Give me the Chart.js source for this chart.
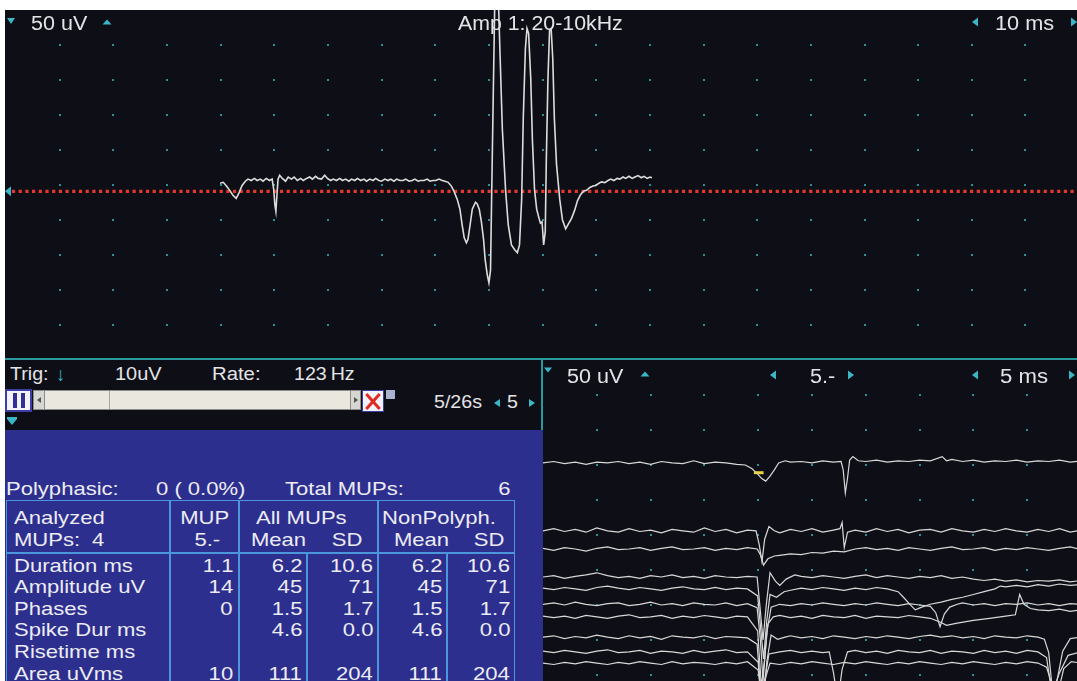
<!DOCTYPE html>
<html>
<head>
<meta charset="utf-8">
<title>EMG MUP analysis</title>
<script src="https://cdn.jsdelivr.net/npm/chart.js@4.4.1/dist/chart.umd.min.js"></script>
<style>
  html, body { margin: 0; padding: 0; background: #fff; }
  #screen { position: relative; width: 1077px; height: 681px; overflow: hidden;
            font-family: "Liberation Sans", Arial, sans-serif; }
  .abs { position: absolute; }
  .txt { position: absolute; white-space: nowrap; line-height: 1; }
</style>
</head>
<body>
<div id="screen">
  <div class="abs" style="left:5px;top:10px;width:1072px;height:671px;background:#0e0f16"></div>
  <canvas id="mainTrace" class="abs" style="left:5px;top:10px" width="1072" height="348"></canvas>
  <div class="abs" style="left:5px;top:358px;width:1072px;height:2px;background:#2a9a9c"></div>
  <div class="abs" style="left:541px;top:358px;width:2px;height:72px;background:#2a9a9c"></div>
  <div class="abs" style="left:5px;top:430px;width:538px;height:251px;background:#2d2f8f"></div>
  <canvas id="raster" class="abs" style="left:543px;top:360px" width="534" height="321"></canvas>
</div>
<script>
const SCREEN_W = 1077;

// ---- top sweep (10 ms/div, 50 uV/div) ----
const mainTimeRange = [0, 199.6];
const mainAmpRange = [-249.6, 247.6];
const triggerLevelUv = -11.4;
const mainHeader = ['50 uV', 'Amp 1: 20-10kHz', '10 ms'];
// [ms, uV]
const mainTrace = [
  [39.9,0],[40.5,1.4],[41.0,-3],[41.6,-9],[42.3,-17],[42.9,-21.5],[43.4,-14],[44.0,-3],[44.6,3],
  [45.1,6],[45.7,4],[46.3,7],[46.8,4],[47.4,6],[47.9,3],[48.5,7],[49.1,4],[49.6,6],
  [49.9,-9],[50.1,-30],[50.3,-40],[50.5,-16],[50.7,6],[51.0,11.5],[51.5,7],[52.1,3],[52.6,9],
  [53.2,6],[53.7,9],[54.3,4],[54.9,7],[55.4,4],[56.0,7],[56.6,9],[57.1,6],[57.7,10],[58.2,7],
  [58.8,6],[59.4,11.5],[59.9,7],[60.5,4],[61.0,6],[61.6,4],[62.2,7],[62.7,4],[63.3,6],[63.9,3],
  [64.4,6],[65.0,4],[65.5,7],[66.1,4],[66.7,6],[67.2,3],[67.8,6],[68.4,4],[68.9,7],[69.5,4],
  [70.0,3],[70.6,6],[71.2,4],[71.7,6],[72.3,3],[72.8,6],[73.4,4],[74.0,4],[74.5,6],[75.1,3],
  [75.7,4],[76.2,6],[76.8,3],[77.3,4],[77.9,4],[78.5,6],[79.0,3],[79.6,4],[80.1,4],[80.7,6],
  [81.3,4],[81.8,3],[82.4,1.4],[83.0,-4],[83.5,-11.5],[84.1,-23],[84.6,-37],[85.0,-59],
  [85.4,-78],[85.8,-85],[86.1,-80],[86.5,-59],[86.9,-37],[87.5,-27],[87.8,-29],[88.2,-37],
  [88.6,-55],[89.0,-80],[89.3,-109],[89.7,-131],[90.0,-142],[90.3,-124],[90.5,-23],[90.8,121],
  [91.1,264],[91.4,293],[91.7,279],[92.1,178],[92.5,78],[93.1,-9],[93.6,-59],[94.2,-88],
  [94.8,-95],[95.3,-99],[95.7,-88],[96.1,-23],[96.4,92],[96.8,193],[97.1,221],[97.4,214],
  [97.8,149],[98.1,63],[98.5,-9],[98.9,-37],[99.3,-49],[99.6,-57],[99.9,-55],[100.2,-88],
  [100.5,-69],[100.7,34],[101.0,149],[101.3,218],[101.6,221],[101.9,178],[102.2,92],[102.6,27],
  [103.2,-23],[103.7,-52],[104.3,-65],[104.9,-57],[105.4,-50],[106.0,-38],[106.5,-25],[107.1,-16],
  [107.7,-11],[108.2,-10],[108.8,-6],[109.4,-4],[109.9,-3],[110.5,0],[111.0,2],[111.6,1],
  [112.2,4],[112.7,6],[113.3,4],[113.9,7],[114.4,6],[115.0,9],[115.5,7],[116.1,10],[116.7,7],
  [117.2,9],[117.8,11],[118.4,8],[118.9,10],[119.5,7],[120.0,9],[120.4,8]
];

// ---- raster of consecutive sweeps (5 ms/div, 50 uV/div) ----
const rasterTimeRange = [0, 49.63];
const rasterAmpRange = [-458.6, 0];
const rasterHeader = ['50 uV', '5.-', '5 ms'];
const sweepBaseUv = [-147, -244, -270, -310, -327, -349, -367, -396, -417, -433];
// each sweep: [ms, uV relative to its own baseline]
const sweep1 = [[0,0],[1,2],[2,-1],[3,1],[4,-2],[5,1],[6,0],[7,2],[8,-1],[9,1],[10,-2],[11,2],[12,0],[13,-1],[14,3],[15,-1],[16,1],[17,0],[18,-2],[18.8,-3],[19.4,-8],[19.9,-15],[20.3,-22],[20.7,-26],[21.1,-19],[21.5,-10],[21.9,0],[22.5,3],[23,1],[24,2],[25,0],[26,3],[27,1],[27.7,2],[27.9,-10],[28.1,-43],[28.3,-22],[28.5,4],[28.8,9],[29.3,3],[30,2],[31,4],[32,1],[33,3],[34,2],[35,4],[36,3],[37.1,9],[37.5,3],[38,5],[39,2],[40,4],[41,1],[42,3],[43,2],[44,4],[45,1],[46,3],[47,2],[48,4],[49,1],[50,3]];
const sweep2 = [[0,0],[1,3],[2,-1],[3,2],[4,-2],[5,4],[6,0],[7,-2],[8,3],[9,-1],[10,1],[11,-3],[12,2],[13,0],[14,-2],[15,4],[16,-1],[17,2],[18,-3],[19,1],[19.8,0],[20.1,-20],[20.35,-44],[20.6,-12],[21.0,6],[21.5,0],[22,-3],[23,2],[24,-1],[25,3],[26,-2],[27,1],[27.6,3],[27.8,12],[28.0,-24],[28.3,-2],[29,1],[30,-2],[31,3],[32,-1],[33,2],[34,-3],[35,1],[36,2],[37,-2],[38,3],[39,0],[40,-2],[41,2],[42,-1],[43,3],[44,0],[45,-2],[46,2],[47,-1],[48,3],[49,-2],[50,1]];
const sweep3 = [[0,1],[1,-2],[2,2],[3,0],[4,-3],[5,1],[6,3],[7,-1],[8,0],[9,2],[10,-2],[11,1],[12,3],[13,-1],[14,0],[15,2],[16,-2],[17,1],[18,-1],[19,2],[19.9,0],[20.2,-8],[20.5,-23],[20.9,-14],[21.5,-10],[22,-9],[23,-7],[24,-8],[25,-5],[26,-6],[27,-3],[28,-4],[29,0],[30,2],[31,-1],[32,1],[33,-2],[34,2],[35,0],[36,-2],[37,1],[38,3],[39,-1],[40,0],[41,2],[42,-2],[43,1],[44,-1],[45,2],[46,0],[47,-2],[48,1],[49,3],[50,-1]];
const sweep4 = [[0,0],[1,2],[2,-2],[3,1],[4,3],[5,6],[6,2],[7,-1],[8,1],[9,-2],[10,2],[11,0],[12,3],[13,-1],[14,1],[15,-2],[16,2],[17,0],[18,-1],[19,1],[19.9,0],[20.15,-40],[20.45,-90],[20.75,-40],[21.1,6],[21.6,-6],[22.0,-12],[22.6,-3],[23.4,3],[24,1],[25,-1],[26,2],[27,0],[28,-2],[29,1],[30,3],[31,-1],[32,2],[33,0],[34,-2],[35,1],[36,-1],[37,2],[38,-2],[39,0],[40,-3],[41,-5],[42,-3],[43,-6],[44,-4],[45,-7],[46,-5],[47,-6],[48,-4],[49,-7],[50,-5]];
const sweep5 = [[0,1],[1,-1],[2,2],[3,0],[4,-2],[5,2],[6,4],[7,1],[8,-1],[9,2],[10,0],[11,-2],[12,1],[13,3],[14,0],[15,-1],[16,2],[17,-1],[18,1],[19,0],[19.95,-10],[20.25,-60],[20.5,-100],[20.8,-45],[21.1,-8],[21.7,-12],[22.4,-4],[23,-2],[24,1],[25,-1],[26,2],[27,0],[28,-2],[29,1],[30,-1],[31,2],[32,0],[33,-4],[33.5,-12],[34.1,-22],[34.6,-30],[35.2,-26],[36,-22],[37,-19],[38,-15],[39,-12],[40,-8],[41,-4],[42,0],[42.5,4],[43,3],[44,5],[45,3],[46,6],[47,4],[48,7],[49,5],[50,6]];
const sweep6 = [[0,0],[1,2],[2,-1],[3,3],[4,0],[5,-2],[6,1],[7,2],[8,-2],[9,0],[10,3],[11,-1],[12,1],[13,-2],[14,2],[15,0],[16,-1],[17,2],[18,-2],[19,1],[19.9,-5],[20.2,-50],[20.45,-110],[20.8,-40],[21.2,-4],[22,0],[23,-2],[24,1],[25,-1],[26,2],[27,0],[28,-2],[29,1],[30,-1],[31,2],[32,0],[33,-2],[34,1],[35,-1],[36,-3],[36.5,-12],[36.9,-32],[37.3,-14],[37.8,-4],[38.5,0],[39,2],[40,-1],[41,1],[42,-2],[43,1],[44,0],[45,2],[46,-1],[47,1],[48,-2],[49,1],[50,0]];
const sweep7 = [[0,1],[1,-1],[2,1],[3,-2],[4,2],[5,0],[6,-2],[7,1],[8,3],[9,-1],[10,0],[11,2],[12,-2],[13,1],[14,-1],[15,2],[16,0],[17,-2],[18,1],[19,0],[19.95,-20],[20.3,-100],[20.6,-60],[20.9,-10],[21.4,0],[22,2],[23,-1],[24,1],[25,-2],[26,2],[27,0],[28,-1],[29,2],[30,-2],[31,1],[32,0],[33,-1],[34,2],[35,0],[36,-2],[37,-8],[37.5,-12],[38.5,-9],[40,-5],[41.5,-2],[43,1],[43.9,3],[44.3,32],[44.7,18],[45.3,12],[46,10],[47,9],[48,11],[49,8],[50,10]];
const sweep8 = [[0,0],[1,2],[2,-2],[3,1],[4,-1],[5,3],[6,0],[7,-2],[8,2],[9,-1],[10,1],[11,-3],[12,2],[13,0],[14,-1],[15,2],[16,-2],[17,1],[18,0],[19,-1],[19.9,-10],[20.2,-70],[20.5,-95],[20.8,-35],[21.2,3],[21.8,-3],[22.5,0],[23,2],[24,-1],[25,1],[26,-2],[27,2],[28,0],[29,-2],[30,1],[31,-1],[32,2],[33,0],[34,-2],[35,1],[36,3],[37,0],[38,2],[39,-1],[40,1],[41,-2],[42,2],[43,0],[44,-1],[45,2],[46,0],[46.6,-3],[47.0,-22],[47.4,-85],[47.8,-60],[48.3,-20],[49.0,-2],[50,0]];
const sweep9 = [[0,1],[1,-1],[2,2],[3,0],[4,-2],[5,1],[6,3],[7,-1],[8,0],[9,2],[10,-2],[11,1],[12,0],[13,-2],[14,2],[15,-1],[16,1],[17,3],[18,-1],[19,0],[20.0,-15],[20.3,-70],[20.6,-40],[21.0,-3],[22,0],[23,2],[24,-1],[25,1],[26,-1],[26.6,0],[27.0,-30],[27.4,-70],[27.8,-25],[28.3,0],[29,2],[30,-1],[31,1],[32,-2],[33,2],[34,0],[35,-1],[36,2],[37,-2],[38,1],[39,0],[40,-2],[41,2],[42,-1],[43,1],[44,-2],[45,2],[46,0],[46.8,-8],[47.3,-60],[48.0,-30],[48.8,-5],[50,0]];
const sweep10 = [[0,0],[1,-2],[2,1],[3,-1],[4,2],[5,0],[6,-2],[7,1],[8,-1],[9,2],[10,0],[11,-2],[12,2],[13,-1],[14,1],[15,0],[16,-2],[17,1],[18,-1],[19,2],[20.0,-10],[20.3,-50],[20.7,-20],[21.1,0],[22,-2],[23,1],[24,-1],[25,2],[26,0],[27,-2],[28,1],[29,-1],[30,2],[31,0],[32,-2],[33,1],[34,-1],[35,2],[36,0],[37,-2],[38,1],[39,-1],[40,2],[41,0],[42,-2],[43,1],[44,-1],[45,2],[46,0],[46.8,-6],[47.3,-30],[47.9,-40],[48.4,-8],[49.1,2],[50,0]];
const sweeps = [sweep1, sweep2, sweep3, sweep4, sweep5, sweep6, sweep7, sweep8, sweep9, sweep10];
const mupMarker = [[19.6,-14],[20.5,-14]];   // yellow cursor on sweep 1

// ---- control strip and statistics ----
const trigLevel = '10uV';
const rateHz = '123';
const sweepCounter = '5/26s';
const sweepIndex = '5';
const polyphasicText = '0 ( 0.0%)';
const totalMups = '6';
const analyzedMups = '4';
const selectedMup = '5.-';
const tableRowLabels = ['Duration ms', 'Amplitude uV', 'Phases', 'Spike Dur ms', 'Risetime ms', 'Area uVms'];
const mupValues   = ['1.1', '14', '0', '', '', '10'];
const allMupsMean = ['6.2', '45', '1.5', '4.6', '', '111'];
const allMupsSd   = ['10.6', '71', '1.7', '0.0', '', '204'];
const nonPolyMean = ['6.2', '45', '1.5', '4.6', '', '111'];
const nonPolySd   = ['10.6', '71', '1.7', '0.0', '', '204'];

const TEXT = '#e4e4e8';
const CYAN = '#3cb6c6';
const DOT = '#2e8e96';
const FONT = '"Liberation Sans", Arial, sans-serif';

function toPoints(pairs, base) {
  return pairs.map(p => ({ x: p[0], y: p[1] + (base || 0) }));
}

function canvasTri(ctx, cx, cy, w, h, dir) {
  ctx.beginPath();
  if (dir === 'down') { ctx.moveTo(cx - w/2, cy - h/2); ctx.lineTo(cx + w/2, cy - h/2); ctx.lineTo(cx, cy + h/2); }
  if (dir === 'up')   { ctx.moveTo(cx - w/2, cy + h/2); ctx.lineTo(cx + w/2, cy + h/2); ctx.lineTo(cx, cy - h/2); }
  if (dir === 'left') { ctx.moveTo(cx + w/2, cy - h/2); ctx.lineTo(cx + w/2, cy + h/2); ctx.lineTo(cx - w/2, cy); }
  if (dir === 'right'){ ctx.moveTo(cx - w/2, cy - h/2); ctx.lineTo(cx - w/2, cy + h/2); ctx.lineTo(cx + w/2, cy); }
  ctx.closePath();
  ctx.fill();
}

function canvasText(ctx, text, x, y, size, sx) {
  ctx.save();
  ctx.translate(x, y);
  ctx.scale(sx, 1);
  ctx.font = size + 'px ' + FONT;
  ctx.fillStyle = TEXT;
  ctx.textBaseline = 'middle';
  ctx.fillText(text, 0, 0);
  ctx.restore();
}

// dots at every division crossing
function dotGrid(xStep, yStep) {
  return {
    id: 'dotGrid',
    beforeDatasetsDraw(chart) {
      const { ctx, scales: { x, y } } = chart;
      ctx.save();
      ctx.fillStyle = DOT;
      for (let xv = x.min + xStep; xv < x.max - 0.01; xv += xStep) {
        for (let yv = y.max - yStep; yv > y.min - 1; yv -= yStep) {
          ctx.fillRect(Math.round(x.getPixelForValue(xv)) - 1, Math.round(y.getPixelForValue(yv)) - 1, 2, 2);
        }
      }
      ctx.restore();
    }
  };
}

// top header (canvas origin is 5,10 on the page)
const mainHeaderPlugin = {
  id: 'mainHeader',
  beforeDatasetsDraw(chart) {
    const ctx = chart.ctx, ox = 5, oy = 10;
    ctx.save();
    ctx.fillStyle = CYAN;
    canvasTri(ctx, 11 - ox, 21 - oy, 8, 6, 'down');
    canvasTri(ctx, 107 - ox, 22 - oy, 9, 5, 'up');
    canvasTri(ctx, 975 - ox, 22 - oy, 6, 9, 'left');
    canvasTri(ctx, 1074 - ox, 22 - oy, 6, 9, 'right');
    const yTrig = chart.scales.y.getPixelForValue(triggerLevelUv);
    canvasTri(ctx, 3, yTrig, 6, 10, 'left');
    canvasText(ctx, mainHeader[0], 31 - ox, 24 - oy, 20.5, 1.05);
    canvasText(ctx, mainHeader[1], 458 - ox, 24 - oy, 20.5, 1.04);
    canvasText(ctx, mainHeader[2], 995 - ox, 24 - oy, 20.5, 1.06);
    ctx.restore();
  }
};

const rasterHeaderPlugin = {
  id: 'rasterHeader',
  beforeDatasetsDraw(chart) {
    const ctx = chart.ctx, ox = 543, oy = 360;
    ctx.save();
    ctx.fillStyle = CYAN;
    canvasTri(ctx, 548 - ox, 370 - oy, 8, 5, 'down');
    canvasTri(ctx, 645 - ox, 374 - oy, 9, 5, 'up');
    canvasTri(ctx, 773 - ox, 375 - oy, 6, 9, 'left');
    canvasTri(ctx, 851 - ox, 375 - oy, 6, 9, 'right');
    canvasTri(ctx, 975 - ox, 375 - oy, 6, 9, 'left');
    canvasTri(ctx, 1072 - ox, 375 - oy, 6, 9, 'right');
    canvasText(ctx, rasterHeader[0], 567 - ox, 377 - oy, 20.5, 1.05);
    canvasText(ctx, rasterHeader[1], 810 - ox, 377 - oy, 20.5, 1.05);
    canvasText(ctx, rasterHeader[2], 1000 - ox, 377 - oy, 20.5, 1.08);
    ctx.restore();
  }
};

const baseOptions = (xr, yr, pad) => ({
  responsive: false,
  animation: false,
  events: [],
  layout: { padding: pad },
  plugins: { legend: { display: false }, tooltip: { enabled: false } },
  scales: {
    x: { type: 'linear', min: xr[0], max: xr[1], display: false },
    y: { type: 'linear', min: yr[0], max: yr[1], display: false }
  }
});

new Chart(document.getElementById('mainTrace'), {
  type: 'line',
  data: {
    datasets: [
      { data: toPoints(mainTrace), borderColor: '#dcdcdc', borderWidth: 1.6, pointRadius: 0, tension: 0 },
      { data: [{ x: 1.1, y: triggerLevelUv }, { x: mainTimeRange[1], y: triggerLevelUv }],
        borderColor: '#e3382e', borderWidth: 3.2, borderDash: [3.2, 3.5], borderCapStyle: 'butt', pointRadius: 0 }
    ]
  },
  options: baseOptions(mainTimeRange, mainAmpRange, { left: 1, right: 0, top: 0, bottom: 0 }),
  plugins: [dotGrid(10, 50), mainHeaderPlugin]
});

const rasterSets = sweeps.map((s, i) => ({
  data: toPoints(s, sweepBaseUv[i]), borderColor: '#d8d8d8', borderWidth: 1.2, pointRadius: 0, tension: 0
}));
rasterSets.unshift({ data: toPoints(mupMarker, sweepBaseUv[0]), borderColor: '#e6d24a', borderWidth: 3, pointRadius: 0 });

new Chart(document.getElementById('raster'), {
  type: 'line',
  data: { datasets: rasterSets },
  options: baseOptions(rasterTimeRange, rasterAmpRange, 0),
  plugins: [dotGrid(5, 50), rasterHeaderPlugin]
});

// ---- HTML parts: control strip and table ----
const screen = document.getElementById('screen');

function addText(text, x, y, size, sx, align, color) {
  const el = document.createElement('div');
  el.className = 'txt';
  el.textContent = text;
  el.style.fontSize = size + 'px';
  el.style.color = color || TEXT;
  el.style.top = (y - size * 0.49) + 'px';
  if (align === 'right') {
    el.style.right = (SCREEN_W - x) + 'px';
    el.style.transformOrigin = 'right center';
  } else {
    el.style.left = x + 'px';
    el.style.transformOrigin = 'left center';
  }
  el.style.transform = 'scaleX(' + sx + ')';
  screen.appendChild(el);
}

function box(x, y, w, h, css) {
  const el = document.createElement('div');
  el.className = 'abs';
  el.style.cssText += 'left:' + x + 'px;top:' + y + 'px;width:' + w + 'px;height:' + h + 'px;box-sizing:border-box;' + (css || '');
  screen.appendChild(el);
  return el;
}

function htmlTri(cx, cy, w, h, dir, color) {
  const el = box(cx - w/2, cy - h/2, 0, 0, '');
  el.style.width = '0'; el.style.height = '0';
  if (dir === 'down') el.style.cssText += `border-left:${w/2}px solid transparent;border-right:${w/2}px solid transparent;border-top:${h}px solid ${color};`;
  if (dir === 'left') el.style.cssText += `border-top:${h/2}px solid transparent;border-bottom:${h/2}px solid transparent;border-right:${w}px solid ${color};`;
  if (dir === 'right') el.style.cssText += `border-top:${h/2}px solid transparent;border-bottom:${h/2}px solid transparent;border-left:${w}px solid ${color};`;
}

// control strip
addText('Trig:', 10, 375, 17.5, 1.12);
addText('\u2193', 56, 374, 19, 1, 'left', CYAN);
addText(trigLevel, 115, 375, 17.5, 1.14);
addText('Rate:', 212, 375, 17.5, 1.16);
addText(rateHz + '\u2009Hz', 294, 375, 17.5, 1.12);

box(5, 389, 27, 23, 'background:#f2f2f8;border:2px solid #3d3da8');
box(13, 393, 4, 15, 'background:#2f2f96');
box(21, 393, 4, 15, 'background:#2f2f96');

box(33, 390, 328, 20, 'background:#e9e7de;border:1px solid #8c8c8c');
box(33, 390, 12, 20, 'background:#d6d6d2;border:1px solid #8c8c8c');
htmlTri(39, 400, 4, 6, 'left', '#555');
box(109, 391, 1, 18, 'background:#a8a8a0');
box(350, 390, 11, 20, 'background:#d6d6d2;border:1px solid #8c8c8c');
htmlTri(356, 400, 4, 6, 'right', '#555');

box(362, 390, 22, 22, 'background:#f2f2f8;border:1.5px solid #3d3da8');
box(363, 399.5, 20, 3, 'background:#e02a22;transform:rotate(48deg)');
box(363, 399.5, 20, 3, 'background:#e02a22;transform:rotate(-48deg)');
box(386, 390, 9, 9, 'background:#aab2d2');

addText(sweepCounter, 434, 403, 17.5, 1.12);
htmlTri(497, 403, 6, 9, 'left', CYAN);
addText(sweepIndex, 507, 403, 17.5, 1.12);
htmlTri(532, 403, 6, 9, 'right', CYAN);
box(7, 417, 10, 2, 'background:' + CYAN);
htmlTri(12, 422, 10, 6, 'down', CYAN);

// statistics table
const TS = 19, TX = 1.16, TW = '#ececf4';
addText('Polyphasic:', 6, 488, TS, TX, 'left', TW);
addText(polyphasicText, 156, 488, TS, TX, 'left', TW);
addText('Total MUPs:', 285, 488, TS, TX, 'left', TW);
addText(totalMups, 511, 488, TS, TX, 'right', TW);

const LINE = '#4c96dc';
box(6, 500, 509, 200, 'border:1.5px solid ' + LINE);
box(6, 552, 509, 1.5, 'background:' + LINE);
[169, 238, 377].forEach(x => box(x, 500, 1.5, 200, 'background:' + LINE));
[306, 446].forEach(x => box(x, 552, 1.5, 150, 'background:' + LINE));

addText('Analyzed', 14, 517, TS, TX, 'left', TW);
addText('MUPs:', 14, 539, TS, TX, 'left', TW);
addText(analyzedMups, 92, 539, TS, TX, 'left', TW);
addText('MUP', 229, 517, TS, TX, 'right', TW);
addText(selectedMup, 220, 539, TS, TX, 'right', TW);
addText('All MUPs', 256, 517, TS, TX, 'left', TW);
addText('Mean', 251, 539, TS, TX, 'left', TW);
addText('SD', 362, 539, TS, TX, 'right', TW);
addText('NonPolyph.', 382, 517, TS, TX, 'left', TW);
addText('Mean', 394, 539, TS, TX, 'left', TW);
addText('SD', 504, 539, TS, TX, 'right', TW);

const colRight = [233, 302, 373, 442, 510];
const cols = [mupValues, allMupsMean, allMupsSd, nonPolyMean, nonPolySd];
tableRowLabels.forEach((label, r) => {
  const y = 565 + r * 21.6;
  addText(label, 14, y, TS, TX, 'left', TW);
  cols.forEach((col, c) => { if (col[r]) addText(col[r], colRight[c], y, TS, TX, 'right', TW); });
});
</script>
</body>
</html>
